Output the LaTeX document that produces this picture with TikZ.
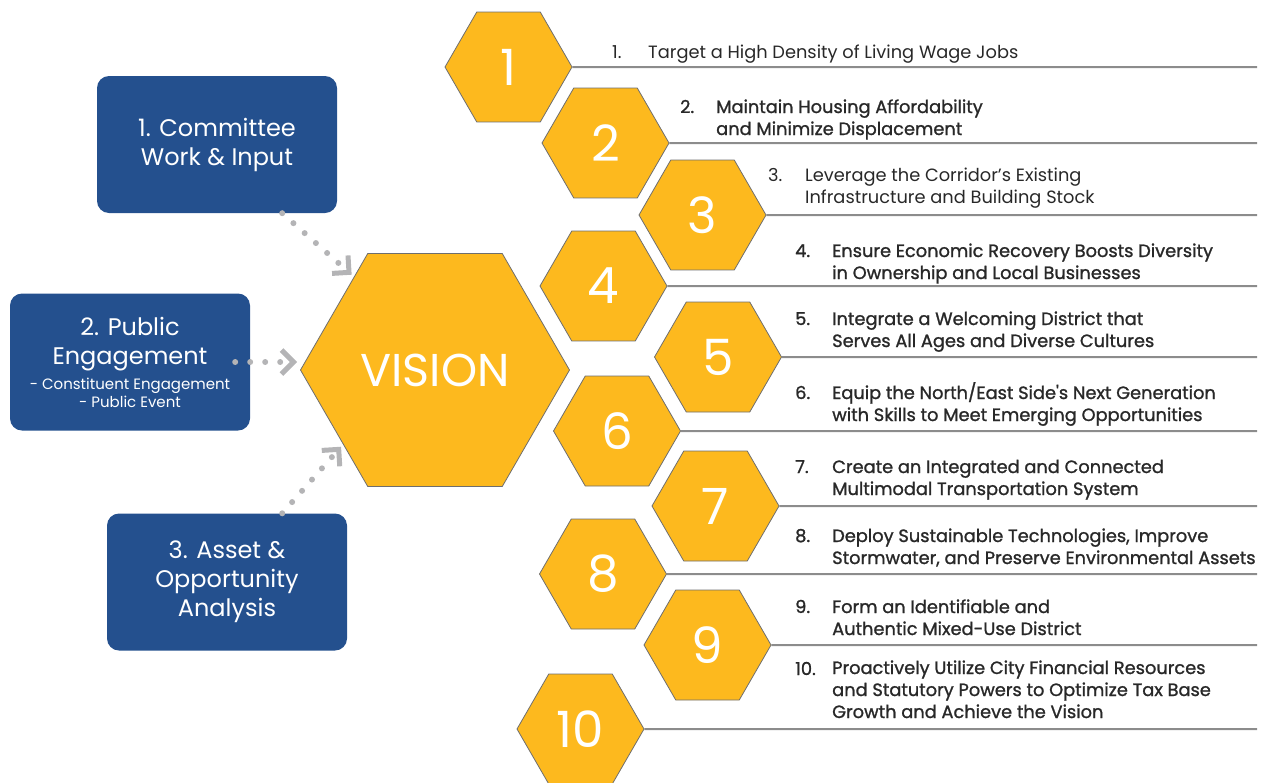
\documentclass[tikz,border=0pt]{standalone}
\usepackage{fontspec}
\setmainfont{Poppins}
\newfontfamily\goalfont[FakeBold=1.2]{Poppins}
\usetikzlibrary{shapes.geometric, arrows.meta, positioning}

\definecolor{hexgold}{RGB}{253,185,30}
\definecolor{hexline}{RGB}{110,110,110}
\definecolor{boxblue}{RGB}{36,80,142}
\definecolor{rulegrey}{RGB}{140,140,140}
\definecolor{dotgrey}{RGB}{180,180,182}
\definecolor{goalgrey}{RGB}{40,40,40}

\tikzset{
  hexa/.style={regular polygon, regular polygon sides=6, minimum size=127pt, inner sep=0pt,
    fill=hexgold, draw=hexline, line width=0.8pt, text=white, font=\fontsize{50}{50}\selectfont},
  stepbox/.style={rounded corners=12pt, fill=boxblue, text=white, minimum width=240pt,
    minimum height=137pt, align=center, inner sep=0pt, font=\fontsize{24}{29}\selectfont},
  goalrule/.style={draw=rulegrey, line width=2pt},
  goalnum/.style={anchor=base west, inner sep=0pt, text=goalgrey, font=\goalfont\fontsize{17.8}{22}\selectfont},
  goaltxt/.style={goalnum, align=left},
  plaingoal/.style={font=\fontsize{17.8}{22}\selectfont},
  flow/.style={dotgrey, line width=6pt, line cap=round, dash pattern=on 0pt off 15pt,
    shorten >=3pt, -{Straight Barb[length=12pt, width=24pt, line width=5pt]}},
}

\begin{document}
\begin{tikzpicture}[x=1pt, y=-1pt]
\useasboundingbox (0,0) rectangle (1263,782);

% input boxes
\node[stepbox] (b1) at (217,144.5) {1. Committee\\Work \& Input};
\node[stepbox] (b2) at (130,362) {2. Public\\Engagement\\[-4pt]
  {\fontsize{15}{18}\selectfont - Constituent Engagement}\\[-11pt]
  {\fontsize{15}{18}\selectfont - Public Event}};
\node[stepbox] (b3) at (227,582) {3. Asset \&\\Opportunity\\Analysis};

% vision
\node[hexa, minimum size=269pt, font=\fontsize{46}{46}\selectfont] (vision) at (435,370) {VISION};

\draw[flow] ([xshift=-55pt]b1.south east) -- (vision.131);
\draw[flow] ([xshift=-15pt]b2.east) -- (vision.west |- b2.east);
\draw[flow] ([xshift=-65pt]b3.north east) -- (vision.219);

% goal hexagons
\node[hexa] (h1) at (508.5,67) {1};
\node[hexa] (h2) at (605.5,143) {2};
\node[hexa] (h3) at (702.5,215) {3};
\node[hexa] (h4) at (603.5,286) {4};
\node[hexa] (h5) at (718,357) {5};
\node[hexa] (h6) at (617,431) {6};
\node[hexa] (h7) at (715.5,506) {7};
\node[hexa] (h8) at (603,574) {8};
\node[hexa] (h9) at (707.5,645) {9};
\node[hexa] (h10) at (580.5,729) {10};

% rules
\coordinate (r1) at (1257,67);
\coordinate (r2) at (1257,143);
\coordinate (r3) at (1257,215);
\coordinate (r4) at (1257,286);
\coordinate (r5) at (1257,357);
\coordinate (r6) at (1257,431);
\coordinate (r7) at (1257,506);
\coordinate (r8) at (1257,574);
\coordinate (r9) at (1257,645);
\coordinate (r10) at (1257,729);
\draw[goalrule] (h1.east) -- (r1);
\draw[goalrule] (h2.east) -- (r2);
\draw[goalrule] (h3.east) -- (r3);
\draw[goalrule] (h4.east) -- (r4);
\draw[goalrule] (h5.east) -- (r5);
\draw[goalrule] (h6.east) -- (r6);
\draw[goalrule] (h7.east) -- (r7);
\draw[goalrule] (h8.east) -- (r8);
\draw[goalrule] (h9.east) -- (r9);
\draw[goalrule] (h10.east) -- (r10);

% goal texts (base = last line)
\node[goalnum, plaingoal] (n1) at (612,58) {1.};
\node[goaltxt, plaingoal] (t1) at (648,58) {Target a High Density of Living Wage Jobs};
\node[goalnum] (n2) at (680,113) {2.};
\node[goaltxt] (t2) at (716,135) {Maintain Housing Affordability\\and Minimize Displacement};
\node[goalnum, plaingoal] (n3) at (768,181) {3.};
\node[goaltxt, plaingoal] (t3) at (805,203) {Leverage the Corridor's Existing\\Infrastructure and Building Stock};
\node[goalnum] (n4) at (795,257) {4.};
\node[goaltxt] (t4) at (832,279) {Ensure Economic Recovery Boosts Diversity\\in Ownership and Local Businesses};
\node[goalnum] (n5) at (795,325) {5.};
\node[goaltxt] (t5) at (832,347) {Integrate a Welcoming District that\\Serves All Ages and Diverse Cultures};
\node[goalnum] (n6) at (795,399) {6.};
\node[goaltxt] (t6) at (832,421) {Equip the North/East Side's Next Generation\\with Skills to Meet Emerging Opportunities};
\node[goalnum] (n7) at (795,473) {7.};
\node[goaltxt] (t7) at (832,495) {Create an Integrated and Connected\\Multimodal Transportation System};
\node[goalnum] (n8) at (795,542) {8.};
\node[goaltxt] (t8) at (832,564) {Deploy Sustainable Technologies, Improve\\Stormwater, and Preserve Environmental Assets};
\node[goalnum] (n9) at (795,613) {9.};
\node[goaltxt] (t9) at (832,635) {Form an Identifiable and\\Authentic Mixed-Use District};
\node[goalnum] (n10) at (795,675) {10.};
\node[goaltxt] (t10) at (832,718) {Proactively Utilize City Financial Resources\\and Statutory Powers to Optimize Tax Base\\Growth and Achieve the Vision};

\end{tikzpicture}
\end{document}
